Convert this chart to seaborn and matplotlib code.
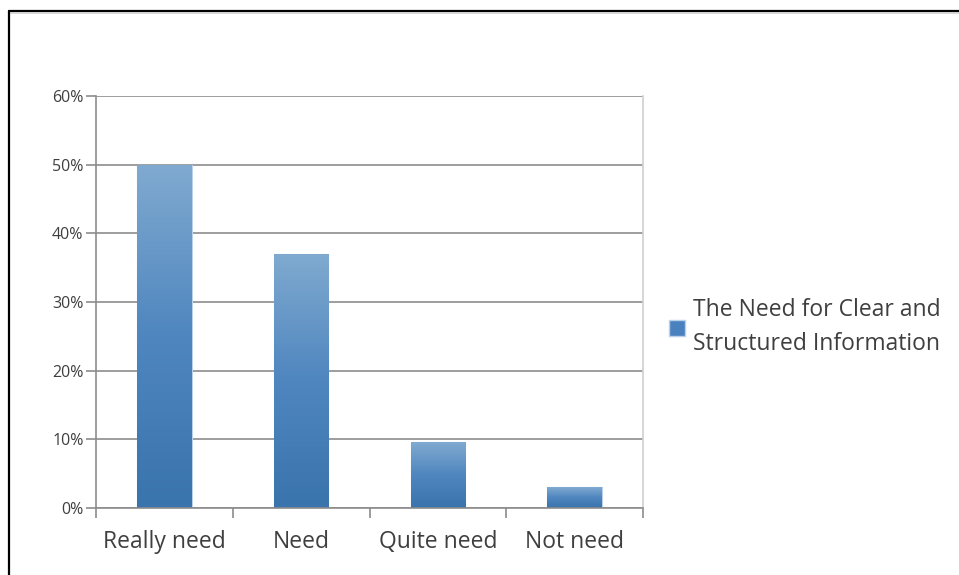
import numpy as np
import pandas as pd
import matplotlib
matplotlib.use("Agg")
import matplotlib.pyplot as plt
from matplotlib.patches import Patch
from matplotlib.lines import Line2D
from matplotlib.colors import LinearSegmentedColormap
import seaborn as sns

categories = ["Really need", "Need", "Quite need", "Not need"]
values = [50, 37, 9.6, 3]
series_name = "The Need for Clear and\nStructured Information"
y_ticks = [0, 10, 20, 30, 40, 50, 60]
y_tick_labels = [f"{v}%" for v in y_ticks]

df = pd.DataFrame({"category": categories, "value": values})

sns.set_theme(style="white")
plt.rcParams["font.family"] = ["Open Sans", "DejaVu Sans"]

text_color = "#3f3f3f"
grid_color = "#8c8c8c"

fig = plt.figure(figsize=(9.59, 5.75), dpi=100)
ax = fig.add_axes([96 / 959, 1 - 508 / 575, (643 - 96) / 959, (508 - 96) / 575])

sns.barplot(data=df, x="category", y="value", color="#4a7fb8", width=0.4,
            ax=ax, zorder=2, edgecolor="#b9d1ea", linewidth=0.8)

# vertical gradient fill for each bar, clipped to the bar shape
grad = LinearSegmentedColormap.from_list("bar", ["#3a74ad", "#4f86bf", "#80aad0"])
gradient = np.linspace(0, 1, 256).reshape(-1, 1)
for patch in ax.patches:
    x0, w, h = patch.get_x(), patch.get_width(), patch.get_height()
    im = ax.imshow(gradient, cmap=grad, origin="lower", aspect="auto",
                   extent=[x0, x0 + w, 0, h], zorder=2.5)
    im.set_clip_path(patch)

ax.set_xlim(-0.5, 3.5)
ax.set_ylim(0, 60)

ax.set_yticks(y_ticks)
ax.set_yticklabels(y_tick_labels)
ax.yaxis.grid(True, color=grid_color, linewidth=1.2, zorder=0)
ax.set_axisbelow(True)

ax.set_xticks(range(len(categories)))
ax.set_xticklabels(categories)
ax.set_xticks([-0.5, 0.5, 1.5, 2.5, 3.5], minor=True)
ax.tick_params(axis="x", which="major", length=0, pad=16, labelsize=16.5, colors=text_color)
ax.tick_params(axis="x", which="minor", length=7, width=1.2, color=grid_color, direction="out", bottom=True)
ax.tick_params(axis="y", which="major", length=7, width=1.2, color=grid_color, direction="out",
               left=True, pad=2, labelsize=11.5, labelcolor=text_color)
ax.set_xlabel("")
ax.set_ylabel("")

for side in ["left", "bottom"]:
    ax.spines[side].set_color(grid_color)
    ax.spines[side].set_linewidth(1.2)
ax.spines["top"].set_visible(False)
ax.spines["right"].set_color("#d0d0d0")
ax.spines["right"].set_linewidth(1.2)

handle = Patch(facecolor="#4a82bf", edgecolor="#b9d1ea")
leg = fig.legend([handle], [series_name], loc="center left",
                 bbox_to_anchor=(669 / 959, 1 - 327 / 575), frameon=False,
                 borderpad=0, borderaxespad=0,
                 fontsize=16.5, handlelength=0.7, handleheight=0.7,
                 handletextpad=0.35, labelcolor=text_color)
for t in leg.get_texts():
    t.set_linespacing(1.5)

# outer frame of the chart area (top and left edges)
fig.add_artist(Line2D([9 / 959, 1], [1 - 11 / 575, 1 - 11 / 575], color="black", linewidth=1.6))
fig.add_artist(Line2D([9 / 959, 1], [1 - 13 / 575, 1 - 13 / 575], color="#cfcfcf", linewidth=1.2))
fig.add_artist(Line2D([9 / 959, 9 / 959], [0, 1 - 11 / 575], color="black", linewidth=1.6))

fig.savefig("out.png", dpi=100, facecolor="white")
